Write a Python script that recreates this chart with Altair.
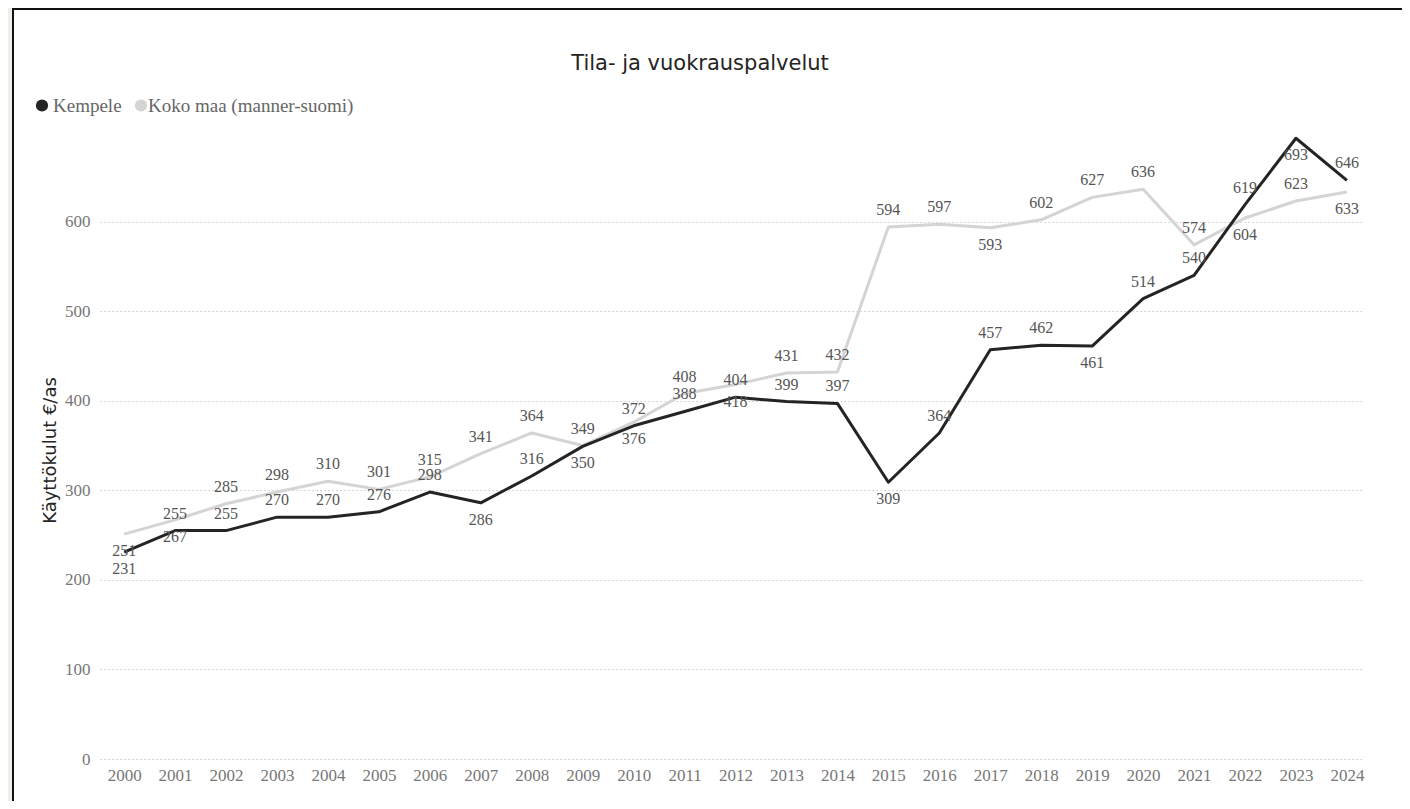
import altair as alt
import pandas as pd

# ---- data ----
years = ["2000", "2001", "2002", "2003", "2004", "2005", "2006", "2007", "2008",
         "2009", "2010", "2011", "2012", "2013", "2014", "2015", "2016", "2017",
         "2018", "2019", "2020", "2021", "2022", "2023", "2024"]
kempele = [231, 255, 255, 270, 270, 276, 298, 286, 316, 349, 372, 388, 404,
           399, 397, 309, 364, 457, 462, 461, 514, 540, 619, 693, 646]
koko_maa = [251, 267, 285, 298, 310, 301, 315, 341, 364, 350, 376, 408, 418,
            431, 432, 594, 597, 593, 602, 627, 636, 574, 604, 623, 633]
series_names = ["Kempele", "Koko maa (manner-suomi)"]
y_ticks = [0, 100, 200, 300, 400, 500, 600]
y_max = 700
chart_title = "Tila- ja vuokrauspalvelut"
y_title = "Käyttökulut €/as"

colors = ["#252423", "#d4d4d4"]


# ---- label placement rule (above, or below at local minima / close pairs) ----
def default_sides(vals):
    out = []
    n = len(vals)
    for i, v in enumerate(vals):
        nb = []
        if i > 0:
            nb.append(vals[i - 1])
        if i < n - 1:
            nb.append(vals[i + 1])
        out.append("below" if all(v < w for w in nb) else "above")
    return out


k_side = default_sides(kempele)
m_side = default_sides(koko_maa)
for i in range(len(years)):
    a, b = kempele[i], koko_maa[i]
    if abs(a - b) < 16:
        k_side[i], m_side[i] = "above", "below"
    else:
        hs, ls = (k_side, m_side) if a > b else (m_side, k_side)
        hv, lv = max(a, b), min(a, b)
        if hs[i] == "below" and ls[i] == "above" and (hv - 19) - (lv + 19) < 20:
            hs[i] = "above"
# labels that would leave the plot area at the top go below the point
for vals, sides in ((kempele, k_side), (koko_maa, m_side)):
    for i, v in enumerate(vals):
        if sides[i] == "above" and v + 19 > y_max:
            sides[i] = "below"

rows = []
for name, vals, sides in zip(series_names, [kempele, koko_maa], [k_side, m_side]):
    for yr, v, s in zip(years, vals, sides):
        rows.append({"Vuosi": yr, "Sarja": name, "Arvo": v, "puoli": s})
df = pd.DataFrame(rows)

# ---- chart ----
serif = "Liberation Serif"
sans = "DejaVu Sans"

color_scale = alt.Scale(domain=series_names, range=colors)

x_enc = alt.X(
    "Vuosi:O",
    scale=alt.Scale(type="point", padding=0.395, align=0.6),
    axis=alt.Axis(title=None, labelAngle=0, ticks=False, domain=False, grid=False,
                  labelPadding=8, labelFont=serif, labelFontSize=17,
                  labelColor="#777777"),
)
y_enc = alt.Y(
    "Arvo:Q",
    scale=alt.Scale(domain=[0, y_max], nice=False, zero=True),
    axis=alt.Axis(values=y_ticks, title=y_title, ticks=False, domain=False,
                  grid=True, gridColor="#c9c9c9", gridDash=[1.5, 2.5], gridWidth=1,
                  labelPadding=10, labelFont=serif, labelFontSize=17,
                  labelColor="#777777", titleFont=sans, titleFontSize=18,
                  titleFontWeight="normal", titleColor="#252423",
                  titleX=-50, titleY=318, titleAlign="center",
                  titleBaseline="middle"),
)

base = alt.Chart(df)

one = pd.DataFrame({"a": [0]})
left_strip = alt.Chart(one).mark_rect(color="#efeee9").encode(
    x=alt.value(-92), x2=alt.value(-88), y=alt.value(-124), y2=alt.value(700))
left_border = alt.Chart(one).mark_rect(color="#111111").encode(
    x=alt.value(-88), x2=alt.value(-86), y=alt.value(-124), y2=alt.value(700))
top_border = alt.Chart(one).mark_rect(color="#111111").encode(
    x=alt.value(-88), x2=alt.value(1400), y=alt.value(-124), y2=alt.value(-122))

line_koko = base.transform_filter(alt.datum.Sarja == series_names[1]).mark_line(
    strokeWidth=3, strokeJoin="round").encode(
    x=x_enc, y=y_enc, color=alt.Color("Sarja:N", scale=color_scale, legend=None))
line_kemp = base.transform_filter(alt.datum.Sarja == series_names[0]).mark_line(
    strokeWidth=3, strokeJoin="round").encode(
    x=x_enc, y=y_enc, color=alt.Color("Sarja:N", scale=color_scale, legend=None))

labels_above = base.transform_filter(alt.datum.puoli == "above").mark_text(
    font=serif, fontSize=16, color="#555555", baseline="middle", align="center",
    dy=-17).encode(x=x_enc, y=y_enc, text="Arvo:Q")
labels_below = base.transform_filter(alt.datum.puoli == "below").mark_text(
    font=serif, fontSize=16, color="#555555", baseline="middle", align="center",
    dy=17).encode(x=x_enc, y=y_enc, text="Arvo:Q")

# ---- legend (top-left, circle + serif label per series) ----
leg_df = pd.DataFrame({"Sarja": series_names})
legend_layers = []
for name, col, cx, tx in zip(series_names, colors, [-58, 41], [-47, 48]):
    d = alt.Chart(leg_df).transform_filter(alt.datum.Sarja == name)
    legend_layers.append(
        d.mark_circle(size=150, opacity=1, color=col).encode(
            x=alt.value(cx), y=alt.value(-26.5)))
    legend_layers.append(
        d.mark_text(font=serif, fontSize=19, color="#666666", align="left",
                    baseline="middle").encode(
            x=alt.value(tx), y=alt.value(-26), text="Sarja:N"))

title_mark = alt.Chart(pd.DataFrame({"t": [chart_title]})).mark_text(
    font=sans, fontSize=21, color="#252423", align="center",
    baseline="alphabetic").encode(x=alt.value(600), y=alt.value(-62), text="t:N")

chart = alt.layer(
    left_strip, left_border, top_border,
    line_koko, line_kemp, labels_above, labels_below, title_mark,
    *legend_layers,
).properties(
    width=1263, height=627,
    padding={"left": 92, "top": 124, "right": 39, "bottom": 42},
    autosize=alt.AutoSizeParams(type="none"),
    background="white",
).configure_view(stroke=None)

chart.save("out.html", embed_options={"renderer": "svg", "actions": False})
